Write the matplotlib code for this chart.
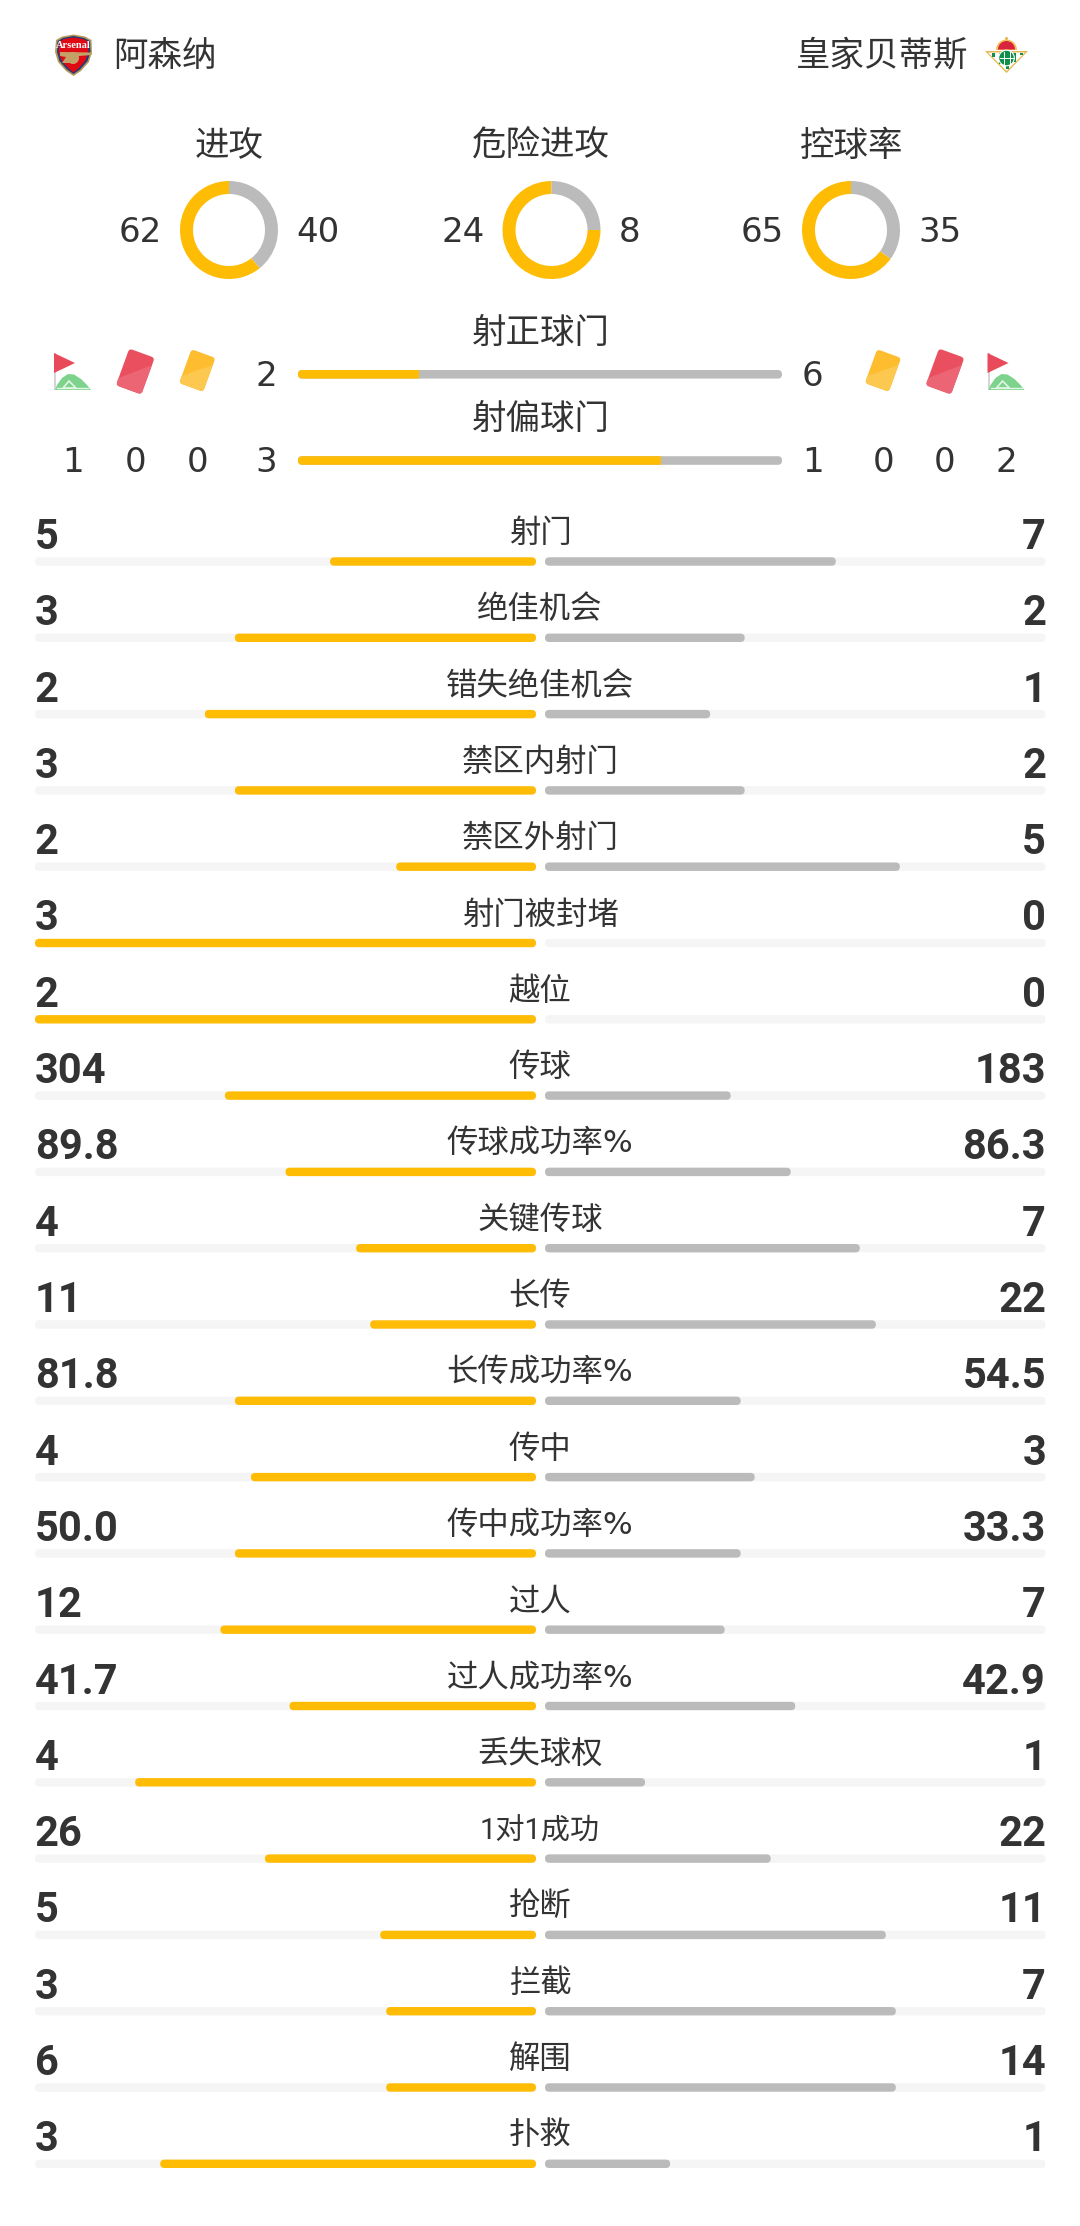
import matplotlib
matplotlib.use("Agg")
import matplotlib.pyplot as plt
from matplotlib.patches import FancyBboxPatch, Polygon, Rectangle, Circle, Wedge
from matplotlib.transforms import Affine2D

# -------------------------
# Data
# -------------------------

home_team = "阿森纳"
away_team = "皇家贝蒂斯"

donut_titles = ["进攻", "危险进攻", "控球率"]
donut_home = [62, 24, 65]
donut_away = [40, 8, 35]

shot_titles = ["射正球门", "射偏球门"]
shot_home = [2, 3]
shot_away = [6, 1]
shot_share = [25, 75]

# corners, red cards, yellow cards
home_counts = [1, 0, 0]
away_counts = [2, 0, 0]

labels = ["射门", "绝佳机会", "错失绝佳机会", "禁区内射门", "禁区外射门", "射门被封堵", "越位",
          "传球", "传球成功率%", "关键传球", "长传", "长传成功率%", "传中", "传中成功率%",
          "过人", "过人成功率%", "丢失球权", "1对1成功", "抢断", "拦截", "解围", "扑救"]
home_text = ["5", "3", "2", "3", "2", "3", "2", "304", "89.8", "4", "11", "81.8", "4", "50.0",
             "12", "41.7", "4", "26", "5", "3", "6", "3"]
away_text = ["7", "2", "1", "2", "5", "0", "0", "183", "86.3", "7", "22", "54.5", "3", "33.3",
             "7", "42.9", "1", "22", "11", "7", "14", "1"]
# bar lengths, % of each track
home_pct = [41.1, 60.1, 66.1, 60.1, 27.9, 100, 100, 62.1, 50.0, 35.9, 33.1, 60.1, 56.9, 60.1,
            63.0, 49.2, 80.0, 54.1, 31.1, 29.9, 29.9, 75.0]
away_pct = [58.1, 39.9, 33.0, 39.9, 70.9, 0, 0, 37.1, 49.1, 62.9, 66.1, 39.1, 41.9, 39.1,
            35.9, 50.0, 20.0, 45.1, 68.1, 70.1, 70.1, 25.0]

GOLD = "#FFBC05"
GREY = "#BBBBBB"
TRACK = "#F5F5F5"
INK = "#333333"
CJK = ["Noto Sans CJK SC", "DejaVu Sans"]
LABEL_FONT = ["Roboto", "Noto Sans CJK SC"]
DIGITS = ["DejaVu Sans", "Noto Sans CJK SC"]

# -------------------------
# Canvas, one pixel per data unit
# -------------------------

fig = plt.figure(figsize=(10.8, 22.26), dpi=100)
ax = fig.add_axes([0, 0, 1, 1])


def rounded(x, y, w, h, color, r=4.2, zorder=2):
    patch = FancyBboxPatch((x, y), w, h, boxstyle=f"round,pad=0,rounding_size={r}",
                           facecolor=color, edgecolor="none", zorder=zorder)
    ax.add_patch(patch)
    return patch


# -------------------------
# Donuts
# -------------------------

donut_x = [229, 551.5, 851]
title_x = [229, 541, 851.5]
for cx, tx, title, a, b in zip(donut_x, title_x, donut_titles, donut_home, donut_away):
    ax.pie([a, b], colors=[GOLD, GREY], center=(cx, 230), radius=49, startangle=270,
           counterclock=False, wedgeprops=dict(width=13, linewidth=0))
    ax.text(tx, 146.5, title, family=CJK, fontsize=24.8, color=INK, ha="center", va="center")
    ax.text(cx - 67, 241.5, str(a), family=DIGITS, fontsize=24.5, color=INK, ha="right", va="baseline")
    ax.text(cx + 67, 241.5, str(b), family=DIGITS, fontsize=24.5, color=INK, ha="left", va="baseline")

# -------------------------
# Shot bars
# -------------------------

shot_y = [374.3, 460.5]
title_y = [334, 420.5]
for y, ty, title, a, b, share in zip(shot_y, title_y, shot_titles, shot_home, shot_away, shot_share):
    ax.text(541, ty, title, family=CJK, fontsize=24.8, color=INK, ha="center", va="center")
    rounded(298, y - 4.3, 484, 8.6, GREY)
    end = 298 + 484 * share / 100
    gold = rounded(298, y - 4.3, 484 * share / 100 + 10, 8.6, GOLD, zorder=3)
    gold.set_clip_path(Rectangle((298, y - 6), end - 298, 12, transform=ax.transData))
    ax.text(266.5, y + 11.5, str(a), family=DIGITS, fontsize=24.5, color=INK, ha="center", va="baseline")
    ax.text(812.7, y + 11.5, str(b), family=DIGITS, fontsize=24.5, color=INK, ha="center", va="baseline")

for x, v in zip([73.3, 135.3, 197.3], home_counts):
    ax.text(x, 471.7, str(v), family=DIGITS, fontsize=24.5, color=INK, ha="center", va="baseline")
for x, v in zip([1006.6, 945, 883.3], away_counts):
    ax.text(x, 471.7, str(v), family=DIGITS, fontsize=24.5, color=INK, ha="center", va="baseline")


# -------------------------
# Icons
# -------------------------

def card(cx, cy, w, h, base, light):
    rot = Affine2D().rotate_deg_around(cx, cy, 20) + ax.transData
    body = FancyBboxPatch((cx - w / 2, cy - h / 2), w, h, boxstyle="round,pad=0,rounding_size=3.5",
                          facecolor=base, edgecolor="none", transform=rot, zorder=3)
    ax.add_patch(body)
    shade = Polygon([(cx + w / 2 + 2, cy - h / 2 + 6), (cx + w / 2 + 2, cy + h / 2 + 2),
                     (cx - w / 2 - 2, cy + h / 2 + 2), (cx - w / 2 - 2, cy + h / 2 - 6)],
                    facecolor=light, edgecolor="none", transform=rot, zorder=4)
    ax.add_patch(shade)
    shade.set_clip_path(body)


def corner_flag(x):
    ax.add_patch(Rectangle((x, 353), 2, 37, facecolor="#D5D5D5", edgecolor="none", zorder=3))
    ax.add_patch(Polygon([(x, 353), (x + 21, 363), (x, 373)], facecolor="#E84A5A", edgecolor="none", zorder=4))
    ax.add_patch(Polygon([(x + 1, 390), (x + 3, 385), (x + 8, 378), (x + 14, 374), (x + 20, 374.5),
                          (x + 27, 379), (x + 33, 385), (x + 37, 390)],
                         facecolor="#7DD38C", edgecolor="none", zorder=3))
    ax.add_patch(Polygon([(x + 9, 388), (x + 15, 381), (x + 22, 388)],
                         facecolor="none", edgecolor="#E3F5E6", linewidth=1.2, zorder=4))
    ax.plot([x + 3, x + 34], [388, 388], color="#E3F5E6", linewidth=1, zorder=4)


card(135.3, 371.5, 27, 39, "#E94F5E", "#EB6574")
card(197.3, 370.5, 25.5, 36, "#FDBD2E", "#FCC84F")
card(883, 370.5, 25.5, 36, "#FDBD2E", "#FCC84F")
card(945, 371.5, 27, 39, "#E94F5E", "#EB6574")
corner_flag(54)
corner_flag(987.5)


def arsenal_crest():
    outline = [(56, 40), (62, 36.5), (73.5, 34.5), (85, 36.5), (91.5, 40), (92, 52), (89, 62), (81, 71),
               (73.5, 76), (66, 71), (58, 62), (55, 52)]
    ax.add_patch(Polygon(outline, facecolor="#B79A5B", edgecolor="none", zorder=3))
    inner = [(57.5, 41), (63, 38), (73.5, 36), (84, 38), (90, 41), (90.5, 52), (87.5, 61), (80, 69.5),
             (73.5, 74), (67, 69.5), (59.5, 61), (57, 52)]
    ax.add_patch(Polygon(inner, facecolor="#1E3C78", edgecolor="none", zorder=4))
    red = [(59.5, 41.5), (64, 39), (73.5, 37.5), (83, 39), (88, 41.5), (88.5, 52), (85.5, 60.5), (79, 68),
           (73.5, 72.5), (68, 68), (61.5, 60.5), (58.5, 52)]
    ax.add_patch(Polygon(red, facecolor="#E00A14", edgecolor="none", zorder=5))
    ax.add_patch(Polygon([(60, 52), (92, 52.5), (92, 55), (79, 56), (70, 63), (62, 63), (66, 57), (60, 56)],
                         facecolor="#C4A267", edgecolor="none", zorder=6))
    ax.add_patch(Circle((73, 58), 6, facecolor="#C4A267", edgecolor="none", zorder=6))
    ax.text(73.5, 45.8, "Arsenal", family="Liberation Serif", fontweight="bold", fontsize=7.5, color="white",
            ha="center", va="center", zorder=7)


def betis_crest():
    ax.add_patch(Polygon([(985, 51), (1028, 51), (1006.5, 73)], facecolor="#E8B64C", edgecolor="none", zorder=3))
    ax.add_patch(Polygon([(988, 52.5), (1025, 52.5), (1006.5, 71)], facecolor="white", edgecolor="none", zorder=4))
    for x0 in [992, 999, 1006, 1013, 1020]:
        left = 52.5 + (x0 - 988) if x0 < 1006 else 52.5 + (1025 - x0 - 3)
        ax.add_patch(Rectangle((x0, 53), 3, max(left - 53, 1), facecolor="#0F8F4A", edgecolor="none", zorder=5))
    ax.add_patch(Circle((1006.5, 58), 7.8, facecolor="#0F8F4A", edgecolor="white", linewidth=0.8, zorder=6))
    ax.plot([1003.5, 1003.5], [52, 64], color="white", linewidth=0.7, zorder=7)
    ax.plot([1009.5, 1009.5], [52, 64], color="white", linewidth=0.7, zorder=7)
    ax.plot([999.5, 1013.5], [58, 58], color="white", linewidth=0.7, zorder=7)
    ax.add_patch(Wedge((1006.5, 50), 10.5, 180, 360, facecolor="#F0C258", edgecolor="none", zorder=4))
    ax.add_patch(Wedge((1006.5, 49.5), 8.5, 180, 360, facecolor="#D8243C", edgecolor="none", zorder=5))
    ax.add_patch(Circle((1006.5, 38.5), 1.5, facecolor="#E8B64C", edgecolor="none", zorder=5))


arsenal_crest()
betis_crest()
ax.text(113, 56.5, home_team, family=CJK, fontsize=24.8, color=INK, ha="left", va="center")
ax.text(968, 56.5, away_team, family=CJK, fontsize=24.8, color=INK, ha="right", va="center")

# -------------------------
# Stat rows
# -------------------------

for i, label in enumerate(labels):
    y = 561.5 + i * 76.3
    rounded(35, y - 4.2, 501, 8.4, TRACK)
    rounded(545, y - 4.2, 500.5, 8.4, TRACK)
    if home_pct[i] > 0:
        w = 501 * home_pct[i] / 100
        rounded(536 - w, y - 4.2, w, 8.4, GOLD, zorder=3)
    if away_pct[i] > 0:
        rounded(545, y - 4.2, 500.5 * away_pct[i] / 100, 8.4, GREY, zorder=3)
    font = DIGITS if "%" in label else LABEL_FONT
    size = 21 if label.startswith("1") else 22.6
    ax.text(540, y - 19.5, label, family=font, fontsize=size, color=INK, ha="center", va="baseline")
    ax.text(35, y - 12.5, home_text[i], family="Roboto", fontweight="bold", fontsize=30, color=INK,
            ha="left", va="baseline")
    ax.text(1046, y - 12.5, away_text[i], family="Roboto", fontweight="bold", fontsize=30, color=INK,
            ha="right", va="baseline")

ax.set_aspect("auto")
ax.set_xlim(0, 1080)
ax.set_ylim(2226, 0)
ax.set_axis_off()
fig.savefig("out.png", dpi=100, facecolor="white")
